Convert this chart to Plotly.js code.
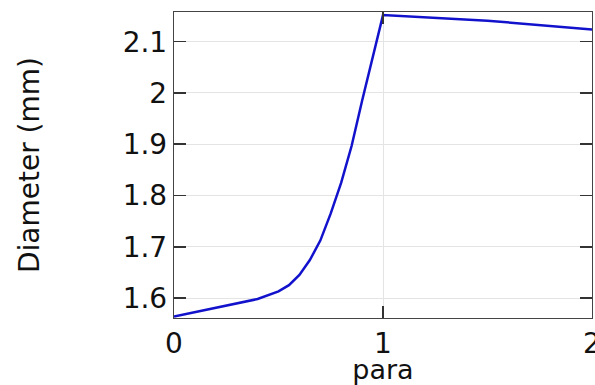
<!DOCTYPE html>
<html>
<head>
<meta charset="utf-8">
<script src="https://cdn.plot.ly/plotly-3.0.1.min.js"></script>
<style>html,body{margin:0;padding:0;background:#fff;}#chart{width:595px;height:385px;}</style>
</head>
<body>
<div id="chart"></div>
<script>
const paraValues = [0, 0.4, 0.5, 0.55, 0.6, 0.65, 0.7, 0.75, 0.8, 0.85, 0.9, 0.95, 1.0, 1.5, 2.0];
const diameterValues = [1.564, 1.598, 1.613, 1.625, 1.645, 1.674, 1.712, 1.765, 1.825, 1.897, 1.985, 2.07, 2.152, 2.141, 2.124];
const xTickValues = [0, 1, 2];
const xTickLabels = ['0', '1', '2'];
const yTickValues = [1.6, 1.7, 1.8, 1.9, 2.0, 2.1];
const yTickLabels = ['1.6', '1.7', '1.8', '1.9', '2', '2.1'];

const font = 'DejaVu Sans, sans-serif';
const trace = {
  x: paraValues, y: diameterValues, type: 'scatter', mode: 'lines',
  line: {color: 'rgb(18,18,205)', width: 2.5}, showlegend: false, hoverinfo: 'skip'
};
const layout = {
  width: 595, height: 385,
  margin: {l: 174, r: 3, t: 12, b: 67, pad: 0},
  paper_bgcolor: '#fff', plot_bgcolor: '#fff',
  font: {family: font, size: 28, color: '#111'},
  xaxis: {
    range: [0, 2], tickvals: xTickValues, ticktext: xTickLabels,
    ticks: 'inside', ticklen: 12, tickcolor: '#333', tickwidth: 1.5,
    showline: true, linecolor: '#444', linewidth: 1.2, mirror: 'allticks',
    showgrid: true, gridcolor: '#e4e4e4', gridwidth: 1, zeroline: false,
    ticklabeloverflow: 'allow',
    tickfont: {family: font, size: 28, color: '#111'},
    title: {text: 'para', font: {family: font, size: 27, color: '#111'}, standoff: 2}
  },
  yaxis: {
    range: [1.561, 2.158], tickvals: yTickValues, ticktext: yTickLabels,
    ticks: 'inside', ticklen: 12, tickcolor: '#333', tickwidth: 1.5,
    showline: true, linecolor: '#444', linewidth: 1.2, mirror: 'allticks',
    showgrid: true, gridcolor: '#e4e4e4', gridwidth: 1, zeroline: false,
    ticklabeloverflow: 'allow',
    tickfont: {family: font, size: 28, color: '#111'},
    title: {text: 'Diameter (mm)', font: {family: font, size: 28, color: '#111'}, standoff: 74}
  }
};
Plotly.newPlot('chart', [trace], layout, {staticPlot: true, displayModeBar: false});
</script>
</body>
</html>
